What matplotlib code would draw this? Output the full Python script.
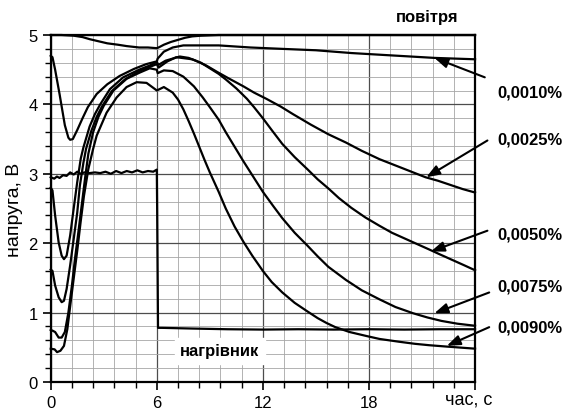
import numpy as np
import matplotlib
matplotlib.use("Agg")
import matplotlib.pyplot as plt
from matplotlib.ticker import MultipleLocator

plt.rcParams['font.family'] = ['Liberation Sans', 'DejaVu Sans']

# air reference curve
t_air = [0, 0.6, 1.3, 1.8, 2.2, 2.7, 3.2, 3.8, 4.3, 5.0, 5.5, 6.0, 6.1, 6.4, 6.8, 7.2,
         7.6, 8.0, 8.5, 9.5, 24]
v_air = [5.0, 5.0, 4.99, 4.97, 4.94, 4.91, 4.88, 4.86, 4.84, 4.82, 4.82, 4.81, 4.82, 4.86,
         4.9, 4.93, 4.96, 4.98, 4.99, 5.0, 5.0]

# 0,0010%
t_c1 = [0, 0.1, 0.25, 0.5, 0.8, 1.0, 1.1, 1.25, 1.5, 1.8, 2.1, 2.6, 3.2, 3.9, 4.7, 5.4,
        6.0, 6.05, 6.4, 6.9, 7.5, 8.5, 9.5, 11.3, 13.1, 15.0, 17.0, 19.0, 21.7, 24]
v_c1 = [4.7, 4.68, 4.5, 4.15, 3.7, 3.52, 3.49, 3.5, 3.63, 3.8, 3.96, 4.15, 4.29, 4.41,
        4.51, 4.58, 4.62, 4.66, 4.76, 4.82, 4.85, 4.85, 4.85, 4.82, 4.8, 4.78, 4.74, 4.71,
        4.67, 4.65]

# 0,0025%
t_c2 = [0, 0.1, 0.25, 0.45, 0.62, 0.75, 0.9, 1.1, 1.3, 1.5, 1.7, 1.85, 2.2, 2.5, 2.8,
        3.35, 4.1, 5.0, 5.6, 6.0, 6.1, 6.5, 7.3, 7.8, 8.2, 8.8, 9.4, 10.1, 10.9, 11.5,
        12.2, 13.0, 13.7, 14.7, 15.7, 16.7, 17.6, 18.6, 19.3, 20.0, 20.6, 21.2, 21.9,
        22.6, 23.3, 24]
v_c2 = [2.8, 2.76, 2.4, 2.01, 1.82, 1.77, 1.82, 2.11, 2.5, 2.88, 3.22, 3.38, 3.68, 3.86,
        4.0, 4.22, 4.39, 4.5, 4.56, 4.61, 4.57, 4.63, 4.69, 4.67, 4.63, 4.56, 4.47, 4.37,
        4.26, 4.17, 4.08, 3.97, 3.86, 3.71, 3.57, 3.45, 3.33, 3.21, 3.14, 3.07, 3.01, 2.95,
        2.9, 2.84, 2.78, 2.73]

# 0,0050%
t_c3 = [0, 0.1, 0.25, 0.45, 0.62, 0.75, 0.9, 1.1, 1.3, 1.5, 1.65, 1.85, 2.0, 2.3, 2.6,
        2.9, 3.45, 4.2, 5.0, 5.6, 6.0, 6.1, 6.6, 7.1, 8.0, 8.5, 9.0, 9.5, 9.9, 10.5, 11.1,
        11.5, 12.0, 12.5, 13.1, 13.8, 14.5, 15.1, 15.7, 16.3, 17.0, 17.8, 18.6, 19.3,
        20.0, 20.7, 21.4, 22.0, 22.7, 23.4, 24]
v_c3 = [1.62, 1.6, 1.39, 1.22, 1.15, 1.17, 1.34, 1.68, 2.06, 2.44, 2.83, 3.16, 3.36, 3.62,
        3.82, 3.97, 4.19, 4.36, 4.48, 4.54, 4.58, 4.53, 4.62, 4.68, 4.65, 4.6, 4.52, 4.44,
        4.36, 4.23, 4.08, 3.96, 3.8, 3.63, 3.43, 3.24, 3.07, 2.92, 2.79, 2.65, 2.51, 2.37,
        2.25, 2.15, 2.07, 1.99, 1.91, 1.84, 1.76, 1.68, 1.61]

# 0,0075%
t_c4 = [0, 0.1, 0.25, 0.45, 0.62, 0.8, 1.0, 1.2, 1.37, 1.56, 1.75, 1.94, 2.13, 2.4, 2.7,
        3.0, 3.55, 4.3, 5.05, 5.6, 6.0, 6.05, 6.4, 6.9, 7.5, 8.1, 8.6, 9.0, 9.5, 9.9, 10.4,
        10.9, 11.5, 12.0, 12.6, 13.1, 13.8, 14.5, 15.1, 15.7, 16.7, 17.6, 18.6, 19.5,
        20.5, 21.3, 22.1, 23.0, 24]
v_c4 = [0.75, 0.74, 0.72, 0.64, 0.64, 0.72, 1.0, 1.39, 1.77, 2.15, 2.54, 2.93, 3.29, 3.6,
        3.82, 3.98, 4.2, 4.37, 4.46, 4.52, 4.5, 4.45, 4.49, 4.48, 4.4, 4.26, 4.1, 3.96,
        3.78, 3.6, 3.39, 3.18, 2.94, 2.74, 2.53, 2.36, 2.15, 1.97, 1.81, 1.66, 1.47, 1.32,
        1.19, 1.08, 0.99, 0.93, 0.88, 0.84, 0.81]

# 0,0090%
t_c5 = [0, 0.1, 0.22, 0.36, 0.55, 0.75, 0.94, 1.13, 1.32, 1.51, 1.69, 1.88, 2.13, 2.4,
        2.6, 3.16, 3.73, 4.29, 4.86, 5.42, 5.9, 6.0, 6.4, 6.9, 7.2, 7.5, 7.8, 8.1, 8.4,
        8.7, 9.0, 9.5, 9.9, 10.4, 10.9, 11.4, 12.0, 12.5, 13.1, 13.8, 14.5, 15.1, 15.6,
        16.1, 16.9, 17.9, 18.6, 19.7, 20.6, 21.4, 22.4, 23.2, 24]
v_c5 = [0.48, 0.475, 0.47, 0.43, 0.45, 0.52, 0.76, 1.15, 1.53, 1.91, 2.3, 2.68, 3.07, 3.36,
        3.55, 3.88, 4.1, 4.25, 4.32, 4.31, 4.22, 4.2, 4.25, 4.17, 4.07, 3.93, 3.76, 3.58,
        3.39, 3.2, 3.02, 2.74, 2.5, 2.24, 2.02, 1.82, 1.6, 1.44, 1.29, 1.14, 1.02, 0.92,
        0.85, 0.79, 0.72, 0.66, 0.62, 0.58, 0.55, 0.53, 0.51, 0.495, 0.48]

# heater voltage
t_heat = [0, 0.2, 0.35, 0.5, 0.7, 0.9, 1.1, 1.3, 1.5, 1.7, 1.9, 2.2, 2.5, 2.8, 3.1, 3.4,
          3.7, 4.0, 4.3, 4.6, 4.9, 5.2, 5.5, 5.8, 6.0, 6.02, 6.07, 6.3, 8, 10, 12, 14, 16,
          18, 20, 22, 24]
v_heat = [2.95, 2.93, 2.96, 2.94, 2.98, 2.97, 3.02, 2.99, 3.03, 3.0, 3.02, 3.01, 3.02, 3.01,
          3.03, 3.0, 3.04, 3.01, 3.04, 3.02, 3.05, 3.02, 3.04, 3.03, 3.06, 2.5, 0.78, 0.78,
          0.77, 0.76, 0.755, 0.76, 0.755, 0.76, 0.755, 0.76, 0.76]

labels = ['0,0010%', '0,0025%', '0,0050%', '0,0075%', '0,0090%']
label_pos = [(27.1, 4.18), (27.1, 3.50), (27.1, 2.13), (27.1, 1.38), (27.1, 0.79)]
arrow_from = [(24.55, 4.39), (24.7, 3.48), (24.7, 2.18), (24.8, 1.29), (24.8, 0.79)]
arrow_to = [(21.7, 4.67), (21.24, 2.95), (21.5, 1.88), (21.7, 0.99), (22.4, 0.52)]

fig = plt.figure(figsize=(5.64, 4.10), dpi=100)
ax = fig.add_axes([0.0899, 0.0659, 0.7524, 0.8463])

ax.set_xlim(0, 24)
ax.set_ylim(0, 5)
ax.xaxis.set_major_locator(MultipleLocator(6))
ax.xaxis.set_minor_locator(MultipleLocator(1.2))
ax.yaxis.set_major_locator(MultipleLocator(1))
ax.yaxis.set_minor_locator(MultipleLocator(0.2))
ax.grid(which='minor', color='0.65', lw=0.6)
ax.grid(which='major', color='0.3', lw=0.9)
ax.set_axisbelow(True)
ax.tick_params(which='major', direction='out', length=6, width=1.2, labelsize=12)
ax.tick_params(which='minor', direction='out', length=4, width=1.0)
ax.set_xticks([0, 6, 12, 18, 24])
ax.set_xticklabels(['0', '6', '12', '18', ''])
for s in ax.spines.values():
    s.set_linewidth(1.6)

for t, v in [(t_air, v_air), (t_c1, v_c1), (t_c2, v_c2), (t_c3, v_c3), (t_c4, v_c4),
             (t_c5, v_c5), (t_heat, v_heat)]:
    ax.plot(t, v, color='black', lw=1.6, clip_on=False)

for lab, pos, a0, a1 in zip(labels, label_pos, arrow_from, arrow_to):
    ax.text(pos[0], pos[1], lab, ha='center', va='center', fontsize=12,
            fontweight='bold', clip_on=False)
    ax.annotate('', xy=a1, xytext=a0, annotation_clip=False,
                arrowprops=dict(arrowstyle='-|>,head_length=0.8,head_width=0.3',
                                color='black', lw=1.5, shrinkA=0, shrinkB=0))

ax.text(21.3, 5.26, 'повітря', ha='center', va='center', fontsize=12,
        fontweight='bold', clip_on=False)
ax.text(9.57, 0.45, 'нагрівник', ha='center', va='center', fontsize=12,
        fontweight='bold', backgroundcolor='white')
ax.text(23.65, -0.245, 'час, с', ha='center', va='center', fontsize=13, clip_on=False)
ax.set_ylabel('напруга, В', fontsize=14, labelpad=4)

fig.savefig('out.png', dpi=100)
